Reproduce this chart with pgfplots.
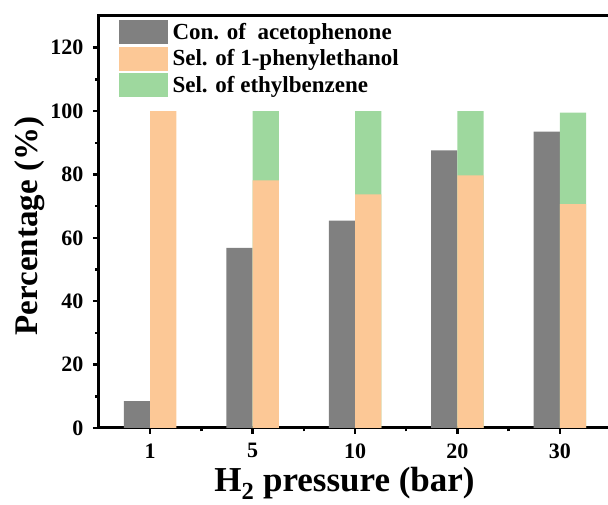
\documentclass[border=0pt]{standalone}
\usepackage{fontspec}
\setmainfont{Liberation Serif}
\usepackage{pgfplots}
\pgfplotsset{compat=1.18}
\definecolor{cgray}{RGB}{128,128,128}
\definecolor{corange}{RGB}{252,200,150}
\definecolor{cgreen}{RGB}{158,216,158}
\begin{document}
\begin{tikzpicture}
\begin{axis}[
 name=ax, scale only axis, width=509pt, height=412pt,
 xmin=-0.5, xmax=4.47, ymin=0, ymax=130,
 axis x line*=box, axis y line*=left,
 axis line style={line width=3pt, line cap=rect},
 xtick={0,1,2,3,4}, xticklabels={1,5,10,20,30},
 minor xtick={0.5,1.5,2.5,3.5},
 ytick={0,20,...,120}, minor ytick={10,30,...,110},
 xtick pos=bottom, ytick pos=left,
 tick align=outside,
 major tick length=6pt, minor tick length=3.5pt,
 every tick/.style={line width=2.5pt, black},
 /pgf/number format/assume math mode=true,
 tick label style={font=\bfseries\fontsize{22}{22}\selectfont},
 xticklabel style={yshift=-6pt},
 yticklabel style={xshift=-6pt},
 xlabel={H\textsubscript{2} pressure (bar)},
 ylabel={Percentage (\%)},
 xlabel style={font=\bfseries\fontsize{35}{35}\selectfont, yshift=-2pt, xshift=-9pt},
 ylabel style={font=\bfseries\fontsize{33}{33}\selectfont, yshift=-1pt, xshift=-4pt},
 legend style={at={(rel axis cs:0,1)}, anchor=north west, xshift=20pt, yshift=-4pt,
   inner sep=0pt, draw=none, fill=none, row sep=3pt,
   font=\bfseries\fontsize{23}{23}\selectfont,
   /tikz/every even column/.append style={column sep=7pt},
   /tikz/every odd column/.append style={column sep=3pt}},
 legend cell align=left,
]
\addlegendimage{legend image code/.code={\fill[cgray] (0pt,-11.5pt) rectangle (48pt,11.5pt);}}
\addlegendentry{Con. of~~acetophenone}
\addlegendimage{legend image code/.code={\fill[corange] (0pt,-11.5pt) rectangle (48pt,11.5pt);}}
\addlegendentry{Sel. of 1-phenylethanol}
\addlegendimage{legend image code/.code={\fill[cgreen] (0pt,-11.5pt) rectangle (48pt,11.5pt);}}
\addlegendentry{Sel. of ethylbenzene}
\addplot[ybar, bar width=0.256, bar shift=-0.128, fill=cgray, draw=none, forget plot]
 coordinates {(0,8.5)(1,56.8)(2,65.4)(3,87.6)(4,93.5)};
% green = total (1-phenylethanol + ethylbenzene)
\addplot[ybar, bar width=0.256, bar shift=0.128, fill=cgreen, draw=none, forget plot]
 coordinates {(1,100)(2,100)(3,100)(4,99.5)};
\addplot[ybar, bar width=0.256, bar shift=0.128, fill=corange, draw=none, forget plot]
 coordinates {(0,100)(1,78.1)(2,73.7)(3,79.7)(4,70.6)};
\end{axis}
\pgfresetboundingbox
\useasboundingbox ([xshift=-99pt,yshift=-77pt]ax.south west) rectangle ++(608pt,505pt);
\end{tikzpicture}
\end{document}
